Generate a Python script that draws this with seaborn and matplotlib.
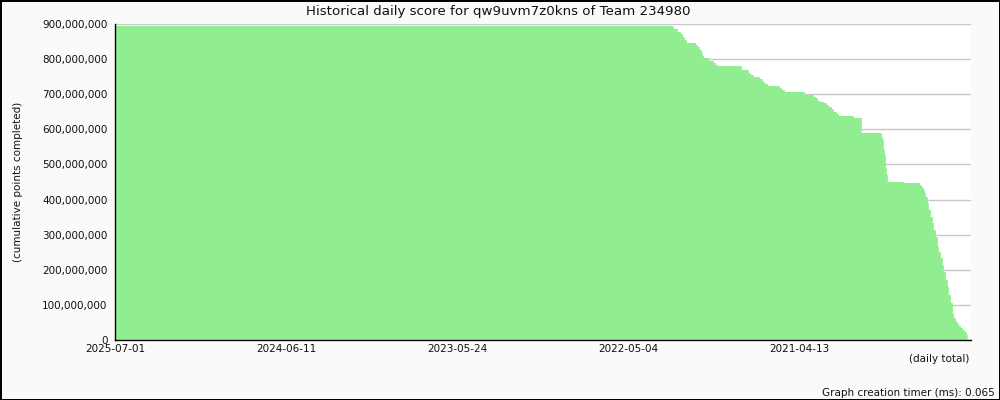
import matplotlib
matplotlib.use("Agg")
import matplotlib.pyplot as plt
import matplotlib.ticker as mticker
import seaborn as sns
import pandas as pd

# Days back from 2025-07-01 where the cumulative score changes, and the score (millions)
days_back = [0, 1253, 1256, 1265, 1271, 1276, 1280, 1285, 1305, 1310, 1314, 1318, 1321,
             1324, 1334, 1345, 1350, 1355, 1409, 1425, 1429, 1435, 1450, 1455, 1460,
             1468, 1495, 1500, 1505, 1550, 1570, 1575, 1579, 1585, 1594, 1600, 1605,
             1611, 1616, 1623, 1628, 1660, 1680, 1723, 1726, 1728, 1731, 1733, 1734,
             1735, 1737, 1773, 1810, 1813, 1816, 1818, 1821, 1823, 1827, 1830, 1834,
             1838, 1842, 1845, 1849, 1853, 1857, 1861, 1864, 1868, 1872, 1875, 1879,
             1883, 1887, 1890, 1894, 1898, 1902, 1906, 1911, 1915, 1917, 1918]
score_m = [892.6, 889.8, 885.0, 876.4, 870.7, 863.0, 853.7, 845.2, 839.5, 833.0, 825.2,
           815.9, 808.2, 801.7, 794.8, 789.1, 782.6, 779.7, 768.4, 760.7, 754.2, 748.5,
           742.0, 735.1, 728.6, 722.9, 716.4, 711.5, 705.8, 697.3, 692.5, 687.9, 681.1,
           678.3, 673.7, 668.9, 662.3, 656.7, 649.8, 643.3, 637.6, 632.8, 590.1, 578.8,
           569.4, 541.0, 526.8, 507.7, 489.0, 470.0, 450.8, 447.2, 441.5, 436.6, 432.1,
           427.3, 417.9, 408.2, 389.5, 370.4, 351.4, 332.6, 313.5, 294.5, 266.1, 251.9,
           233.1, 214.1, 195.0, 171.4, 152.4, 128.8, 105.2, 76.8, 62.5, 55.7, 48.3,
           41.5, 35.8, 29.3, 24.4, 15.1, 5.7, 5.7]

tick_days = [0, 385, 770, 1155, 1540]
tick_labels = ["2025-07-01", "2024-06-11", "2023-05-24", "2022-05-04", "2021-04-13"]
minor_days = [192.5, 577.5, 962.5, 1347.5, 1732.5]
y_ticks = [0, 100e6, 200e6, 300e6, 400e6, 500e6, 600e6, 700e6, 800e6, 900e6]

title = "Historical daily score for qw9uvm7z0kns of Team 234980"
ylabel = "(cumulative points completed)"
xlabel = "(daily total)"
footer = "Graph creation timer (ms): 0.065"

df = pd.DataFrame({"day": days_back, "score": [v * 1e6 for v in score_m]})

sns.set_style("white")
plt.rcParams["font.family"] = ["DejaVu Sans"]

fig = plt.figure(figsize=(10, 4), dpi=100, facecolor="#fafafa",
                 edgecolor="black", linewidth=1.0)
ax = fig.add_axes([0.1153, 0.1493, 0.8554, 0.7915])
ax.set_facecolor("white")

green = "#90ee90"
ax.fill_between(df["day"], df["score"], step="post", color=green, linewidth=0, zorder=2)
sns.lineplot(data=df, x="day", y="score", drawstyle="steps-post", color=green,
             linewidth=0.6, ax=ax, zorder=2)

ax.set_xlim(0, 1926)
ax.set_ylim(0, 900e6)
ax.set_xticks(tick_days, tick_labels)
ax.set_xticks(minor_days, minor=True)
ax.set_yticks(y_ticks)
ax.yaxis.set_major_formatter(mticker.StrMethodFormatter("{x:,.0f}"))

ax.set_axisbelow(True)
ax.yaxis.grid(True, color="#c8c8c8", linewidth=1.0)
ax.xaxis.grid(False)

for s in ["top", "right"]:
    ax.spines[s].set_visible(False)
for s in ["left", "bottom"]:
    ax.spines[s].set_color("black")
    ax.spines[s].set_linewidth(1.0)
    ax.spines[s].set_zorder(3)

ax.tick_params(axis="both", which="both", direction="in", length=4, width=1,
               color="black", labelsize=7.5, labelcolor="#111111")
ax.tick_params(axis="x", which="both", length=4.5, pad=2.5)
ax.tick_params(axis="y", pad=5.5)
ax.set_xlabel("")
ax.set_ylabel("")

fig.text(0.498, 1 - 11.5 / 400, title, ha="center", va="center", fontsize=9.6, color="#111111")
fig.text(0.018, 1 - 182 / 400, ylabel, ha="center", va="center", rotation=90,
         fontsize=7.5, color="#111111")
fig.text(0.969, 1 - 359 / 400, xlabel, ha="right", va="center", fontsize=7.5, color="#111111")
fig.text(0.995, 1 - 393 / 400, footer, ha="right", va="center", fontsize=7.5, color="#111111")

fig.savefig("out.png", dpi=100, facecolor=fig.get_facecolor(), edgecolor="black")
